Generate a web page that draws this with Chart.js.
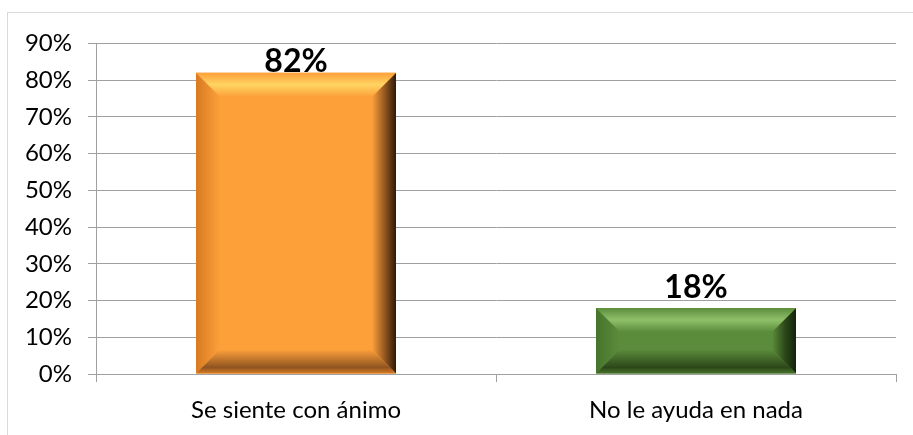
<!DOCTYPE html>
<html>
<head>
<meta charset="utf-8">
<script src="https://cdn.jsdelivr.net/npm/chart.js@4.4.1/dist/chart.umd.min.js"></script>
<style>
    html, body { margin: 0; padding: 0; background: #fff; }
    #frame {
        position: absolute; left: 7px; top: 12px;
        width: 906px; height: 423px;
        border-left: 1px solid #d9d9d9; border-top: 1px solid #d9d9d9;
        box-sizing: border-box;
    }
    #chart { display: block; }
</style>
</head>
<body>
<div id="frame"><canvas id="chart" width="905" height="422"></canvas></div>
<script>
'use strict';

// Chart data
const categories = ['Se siente con ánimo', 'No le ayuda en nada'];
const percentValues = [82, 18];
const valueLabels = ['82%', '18%'];
const yMax = 90;
const yStep = 10;

// Bevel palettes per bar: front, light edge, left edge, dark edge, bottom
const bevelColors = [
    { front: '#fda03a', hi: '#ffd462', left: '#d77a22', dark: '#2f1a07', low: '#8f5420' },
    { front: '#5b8c3b', hi: '#8fc069', left: '#47742c', dark: '#14220a', low: '#2c4719' }
];

const gridGray = '#a0a0a0';
const fontFamily = 'Lato, "Open Sans", sans-serif';

/**
 * Draw an Excel-like bevel on top of each bar
 */
const bevelPlugin = {
    id: 'bevel',
    afterDatasetsDraw(chart) {
        const ctx = chart.ctx;
        chart.getDatasetMeta(0).data.forEach((bar, i) => {
            const c = bevelColors[i];
            const l = bar.x - bar.width / 2;
            const r = bar.x + bar.width / 2;
            const t = bar.y;
            const btm = bar.base;
            const b = Math.min(24, (btm - t) / 2);
            ctx.save();

            // left
            let g = ctx.createLinearGradient(l, 0, l + b, 0);
            g.addColorStop(0, c.left);
            g.addColorStop(1, c.front);
            ctx.fillStyle = g;
            ctx.beginPath();
            ctx.moveTo(l, t); ctx.lineTo(l + b, t + b); ctx.lineTo(l + b, btm - b); ctx.lineTo(l, btm);
            ctx.closePath(); ctx.fill();

            // right
            g = ctx.createLinearGradient(r - b, 0, r, 0);
            g.addColorStop(0, c.front);
            g.addColorStop(0.55, c.low);
            g.addColorStop(1, c.dark);
            ctx.fillStyle = g;
            ctx.beginPath();
            ctx.moveTo(r, t); ctx.lineTo(r - b, t + b); ctx.lineTo(r - b, btm - b); ctx.lineTo(r, btm);
            ctx.closePath(); ctx.fill();

            // top
            g = ctx.createLinearGradient(0, t, 0, t + b);
            g.addColorStop(0, c.front);
            g.addColorStop(0.5, c.hi);
            g.addColorStop(1, c.front);
            ctx.fillStyle = g;
            ctx.beginPath();
            ctx.moveTo(l, t); ctx.lineTo(r, t); ctx.lineTo(r - b, t + b); ctx.lineTo(l + b, t + b);
            ctx.closePath(); ctx.fill();

            // bottom
            g = ctx.createLinearGradient(0, btm - b, 0, btm);
            g.addColorStop(0, c.front);
            g.addColorStop(0.75, c.low);
            g.addColorStop(1, c.left);
            ctx.fillStyle = g;
            ctx.beginPath();
            ctx.moveTo(l, btm); ctx.lineTo(r, btm); ctx.lineTo(r - b, btm - b); ctx.lineTo(l + b, btm - b);
            ctx.closePath(); ctx.fill();

            ctx.restore();
        });
    }
};

/**
 * Bold value labels above the bars
 */
const valueLabelPlugin = {
    id: 'valueLabels',
    afterDatasetsDraw(chart) {
        const ctx = chart.ctx;
        const area = chart.chartArea;
        ctx.save();
        ctx.font = 'bold 32px ' + fontFamily;
        ctx.fillStyle = '#000';
        ctx.textAlign = 'center';
        ctx.textBaseline = 'alphabetic';
        chart.getDatasetMeta(0).data.forEach((bar, i) => {
            const y = Math.max(bar.y - 10, area.top + 29);
            ctx.fillText(valueLabels[i], bar.x, y);
        });
        ctx.restore();
    }
};

new Chart(document.getElementById('chart'), {
    type: 'bar',
    data: {
        labels: categories,
        datasets: [{
            data: percentValues,
            backgroundColor: bevelColors.map(c => c.front),
            borderWidth: 0,
            barPercentage: 0.5,
            categoryPercentage: 1
        }]
    },
    options: {
        responsive: false,
        animation: false,
        layout: { padding: { left: 0, top: 29, right: 17, bottom: 0 } },
        plugins: {
            legend: { display: false },
            tooltip: { enabled: false }
        },
        scales: {
            x: {
                afterFit: s => { s.height = 61; },
                grid: {
                    offset: true,
                    drawOnChartArea: false,
                    drawTicks: true,
                    tickLength: 8,
                    color: gridGray
                },
                border: { color: gridGray },
                ticks: {
                    padding: 14,
                    color: '#000',
                    font: { family: fontFamily, size: 24 }
                }
            },
            y: {
                min: 0,
                max: yMax,
                afterFit: s => { s.width = 88; },
                grid: { color: gridGray, tickLength: 8 },
                border: { color: gridGray },
                ticks: {
                    stepSize: yStep,
                    padding: 16,
                    color: '#000',
                    font: { family: fontFamily, size: 24 },
                    callback: v => v + '%'
                }
            }
        }
    },
    plugins: [bevelPlugin, valueLabelPlugin]
});
</script>
</body>
</html>
